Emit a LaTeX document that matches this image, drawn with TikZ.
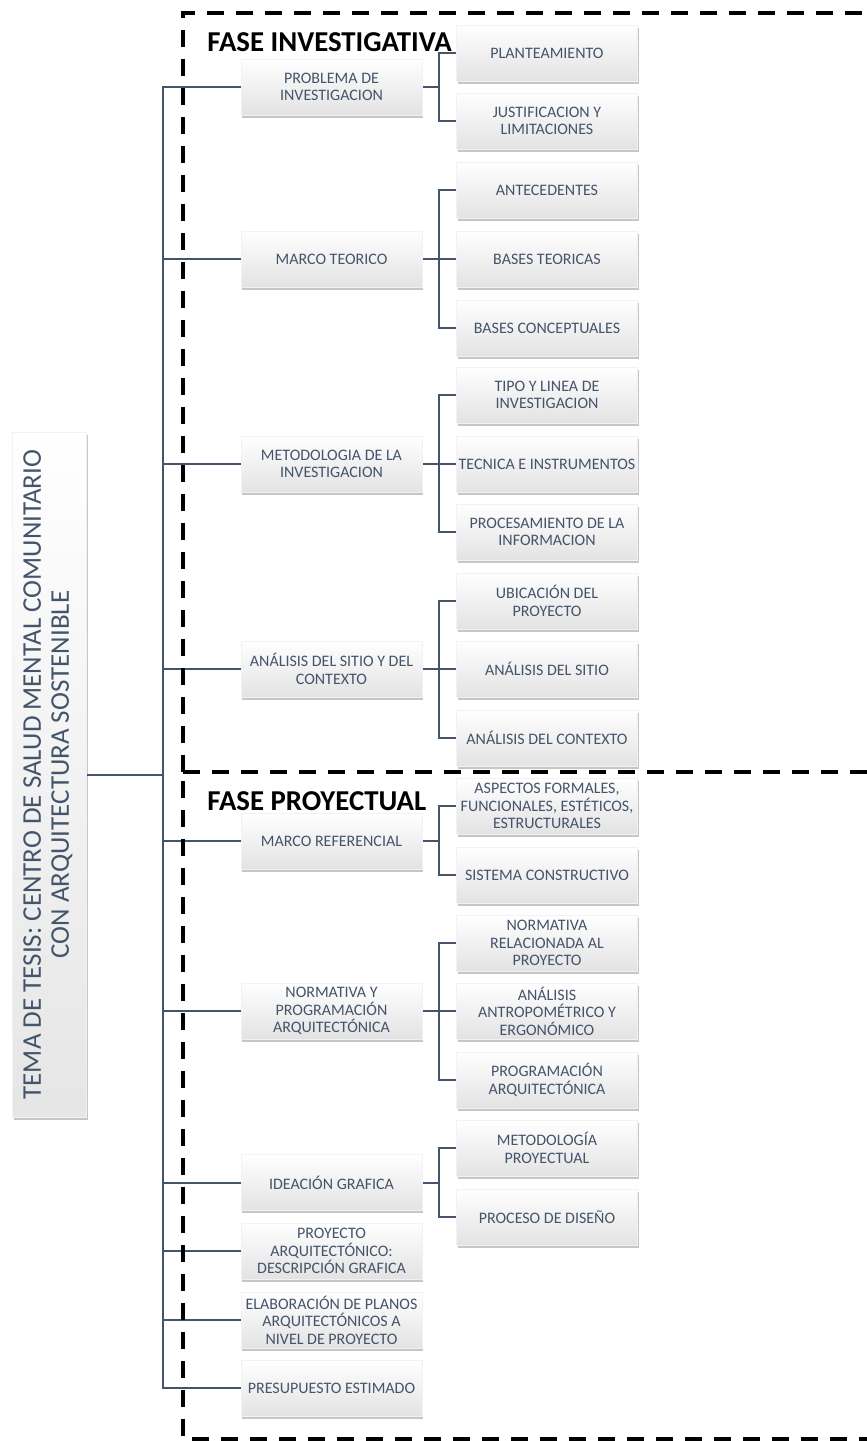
\documentclass[tikz,border=0pt]{standalone}
\usepackage{fontspec}
\setmainfont{Carlito}
\usepackage{graphicx}
\usetikzlibrary{shadows,backgrounds}
\definecolor{txt}{RGB}{68,84,106}
\definecolor{ln}{RGB}{68,84,106}
\begin{document}
\begin{tikzpicture}[x=0.5pt,y=-0.5pt,
  box/.style={rectangle, inner sep=0pt, minimum width=90.5pt, minimum height=28pt, align=center, text=txt,
    font=\fontsize{8}{8.7}\selectfont, top color=white, bottom color=black!11, draw=black!5, line width=0.3pt,
    drop shadow={shadow xshift=0.5pt, shadow yshift=-1.3pt, opacity=0.28, fill=black!80}},
  rootbox/.style={rectangle, inner sep=0pt, minimum width=37pt, minimum height=342.5pt, align=center, text=txt,
    top color=white, bottom color=black!10, draw=black!5, line width=0.3pt,
    drop shadow={shadow xshift=0.8pt, shadow yshift=-1.3pt, opacity=0.28, fill=black!80}},
  conn/.style={draw=ln, line width=1pt, line cap=rect},
  dashline/.style={draw=black, line width=1.75pt, dash pattern=on 8.5pt off 6pt},
  fase/.style={inner sep=0pt, font=\fontsize{14.4}{17}\selectfont\bfseries, text=black}
]
\useasboundingbox (0,0) rectangle (867,1441);

% root
\node[rootbox] (root) at (49,774.5) {\rotatebox{90}{\fontsize{13.5}{14.5}\selectfont\begin{tabular}{@{}c@{}}TEMA DE TESIS: CENTRO DE SALUD MENTAL COMUNITARIO\\[-0.5pt] CON ARQUITECTURA SOSTENIBLE\end{tabular}}};

% level 1
\node[box] (p1) at (331.5,87) {PROBLEMA DE\\INVESTIGACION};
\node[box] (p2) at (331.5,259) {MARCO TEORICO};
\node[box] (p3) at (331.5,464) {METODOLOGIA DE LA\\INVESTIGACION};
\node[box] (p4) at (331.5,669) {ANÁLISIS DEL SITIO Y DEL\\CONTEXTO};
\node[box] (p5) at (331.5,841) {MARCO REFERENCIAL};
\node[box] (p6) at (331.5,1011) {NORMATIVA Y\\PROGRAMACIÓN\\ARQUITECTÓNICA};
\node[box] (p7) at (331.5,1182.5) {IDEACIÓN GRAFICA};
\node[box] (p8) at (331.5,1251) {PROYECTO\\ARQUITECTÓNICO:\\DESCRIPCIÓN GRAFICA};
\node[box] (p9) at (331.5,1320) {ELABORACIÓN DE PLANOS\\ARQUITECTÓNICOS A\\NIVEL DE PROYECTO};
\node[box] (p10) at (331.5,1388) {PRESUPUESTO ESTIMADO};

% level 2
\node[box] (c1) at (547,53) {PLANTEAMIENTO};
\node[box] (c2) at (547,121) {JUSTIFICACION Y\\LIMITACIONES};
\node[box] (c3) at (547,190) {ANTECEDENTES};
\node[box] (c4) at (547,259) {BASES TEORICAS};
\node[box] (c5) at (547,328) {BASES CONCEPTUALES};
\node[box] (c6) at (547,395) {TIPO Y LINEA DE\\INVESTIGACION};
\node[box] (c7) at (547,464) {TECNICA E INSTRUMENTOS};
\node[box] (c8) at (547,532) {PROCESAMIENTO DE LA\\INFORMACION};
\node[box] (c9) at (547,601) {UBICACIÓN DEL\\PROYECTO};
\node[box] (c10) at (547,669) {ANÁLISIS DEL SITIO};
\node[box] (c11) at (547,738) {ANÁLISIS DEL CONTEXTO};
\node[box] (c12) at (547,806) {ASPECTOS FORMALES,\\FUNCIONALES, ESTÉTICOS,\\ESTRUCTURALES};
\node[box] (c13) at (547,875) {SISTEMA CONSTRUCTIVO};
\node[box] (c14) at (547,943) {NORMATIVA\\RELACIONADA AL\\PROYECTO};
\node[box] (c15) at (547,1011) {ANÁLISIS\\ANTROPOMÉTRICO Y\\ERGONÓMICO};
\node[box] (c16) at (547,1080) {PROGRAMACIÓN\\ARQUITECTÓNICA};
\node[box] (c17) at (547,1148) {METODOLOGÍA\\PROYECTUAL};
\node[box] (c18) at (547,1217) {PROCESO DE DISEÑO};

\coordinate (t) at (163,0);
\coordinate (f) at (439,0);

\begin{scope}[on background layer]
  \draw[conn] (root.east) -- (root.east -| t);
  \draw[conn] (p1.west -| t) -- (p10.west -| t);
  \foreach \n in {p1,p2,p3,p4,p5,p6,p7,p8,p9,p10} \draw[conn] (\n.west) -- (\n.west -| t);
  \foreach \p/\a/\b in {p1/c1/c2, p2/c3/c5, p3/c6/c8, p4/c9/c11, p5/c12/c13, p6/c14/c16, p7/c17/c18} {
    \draw[conn] (\p.east) -- (\p.east -| f);
    \draw[conn] (\a.west) -- (\a.west -| f) -- (\b.west -| f) -- (\b.west);
  }
  \foreach \n in {c4,c7,c10,c15} \draw[conn] (\n.west) -- (\n.west -| f);
\end{scope}

% dashed phase frames
\draw[dashline] (183,772) -- (183,13) -- (867,13);
\draw[dashline] (183,772) -- (867,772);
\draw[dashline, dash phase=10pt] (183,772) -- (183,1439) -- (867,1439);

% phase labels
\node[fase, anchor=base west] (fi) at (207,51) {FASE INVESTIGATIVA};
\node[fase, anchor=base west] (fp) at (207,810) {FASE PROYECTUAL};
\end{tikzpicture}
\end{document}
